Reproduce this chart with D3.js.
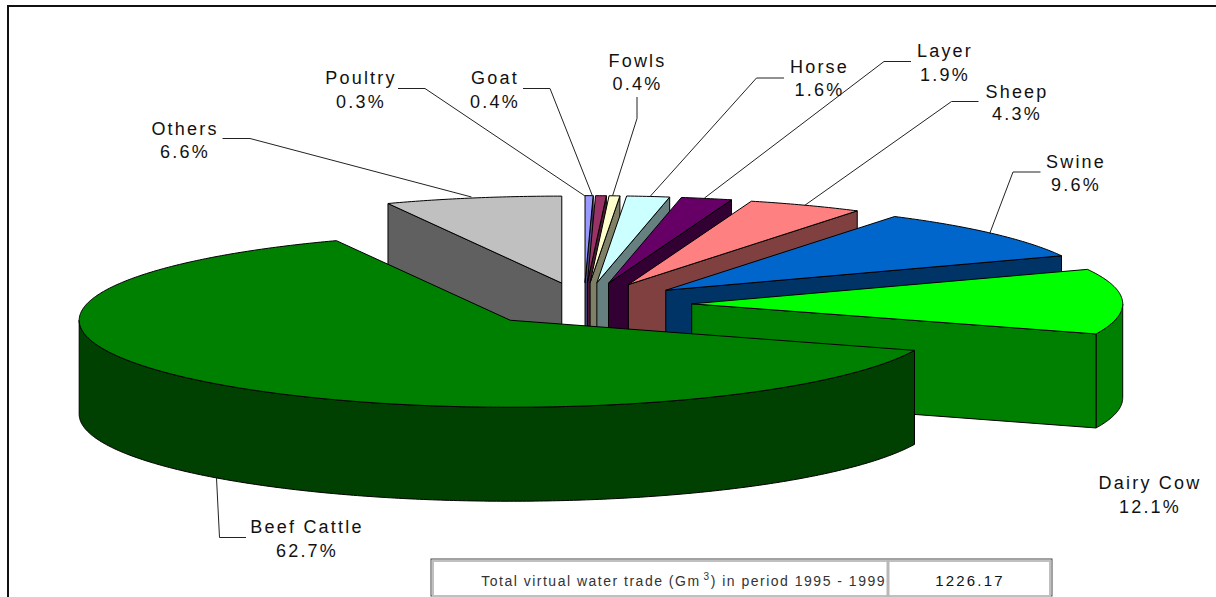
<!DOCTYPE html>
<html>
<head>
<meta charset="utf-8">
<script src="https://cdn.jsdelivr.net/npm/d3@7"></script>
<style>
  html, body { margin: 0; padding: 0; background: #fff; overflow: hidden; }
  text { font-family: "Liberation Sans", Arial, sans-serif; fill: #111; }
</style>
</head>
<body>
<div id="chart"></div>
<script>
  // Values
  const categories = ["Poultry", "Goat", "Fowls", "Horse", "Layer", "Sheep", "Swine", "Dairy Cow", "Beef Cattle", "Others"];
  const shares = [0.3, 0.4, 0.4, 1.6, 1.9, 4.3, 9.6, 12.1, 62.7, 6.6];
  const topColors = ["#9999ff", "#993366", "#ffffcc", "#ccffff", "#660066", "#ff8080", "#0066cc", "#00ff00", "#008000", "#c0c0c0"];
  const wallColors = ["#4d4d80", "#4d1a33", "#808066", "#668080", "#330033", "#804040", "#003366", "#008000", "#004000", "#606060"];

  const tableLabel = ["Total virtual water trade (Gm", "3", ") in period 1995 - 1999"];
  const tableValue = "1226.17";

  // Label placement, same order as categories: text centre, baselines, leader line
  const labelLayout = [
    { x: 360, y: [84, 107.5], line: [[398, 88.5], [425, 88.5], [585, 196]] },
    { x: 494, y: [84, 107.5], line: [[523, 88.5], [550, 88.5], [592.5, 196]] },
    { x: 636.5, y: [66.5, 90], line: [[637, 97], [637, 118.5], [612.5, 196]] },
    { x: 818.5, y: [73, 96], line: [[784, 78], [756.5, 78], [650.5, 196]] },
    { x: 944, y: [57, 80.5], line: [[911, 61.5], [884, 61.5], [704.5, 198]] },
    { x: 1016, y: [97.5, 120], line: [[978.5, 101.5], [951.5, 101.5], [804.5, 205.5]] },
    { x: 1075, y: [168, 191], line: [[1040.5, 172], [1013, 172], [989.5, 234]] },
    { x: 1149, y: [489, 512.5], line: null },
    { x: 306, y: [533, 556.5], line: [[246, 537.5], [219.5, 537.5], [216.5, 478]] },
    { x: 184, y: [135, 158], line: [[222.5, 138.5], [250, 138.5], [471.5, 197]] },
  ];

  const width = 1216;
  const height = 597;
  const centerX = 584;
  const centerY = 304.4;
  const radiusX = 431;
  const radiusY = 87;
  const depth = 94;
  const explode = 0.25;

  const svg = d3
    .select("#chart")
    .append("svg")
    .attr("width", width)
    .attr("height", height)
    .style("display", "block");

  // Unit circle to the flattened pie
  const sx = d3.scaleLinear().domain([-1, 1]).range([centerX - radiusX, centerX + radiusX]);
  const sy = d3.scaleLinear().domain([-1, 1]).range([centerY - radiusY, centerY + radiusY]);

  const arcs = d3.pie().sort(null).value((d) => d)(shares);

  const slices = arcs.map((a, i) => {
    const mid = (a.startAngle + a.endAngle) / 2;
    return {
      i,
      start: a.startAngle,
      end: a.endAngle,
      ox: explode * Math.sin(mid),
      oy: -explode * Math.cos(mid),
    };
  });

  const apex = (s) => [sx(s.ox), sy(s.oy)];
  const rim = (s, t) => [sx(s.ox + Math.sin(t)), sy(s.oy - Math.cos(t))];
  const angles = (a, b) => {
    const n = Math.max(2, Math.ceil((b - a) / 0.01));
    return d3.range(n + 1).map((k) => a + ((b - a) * k) / n);
  };
  const down = (p) => [p[0], p[1] + depth];
  const line = d3.line();

  const outline = (g, pts, fill) =>
    g
      .append("path")
      .attr("d", line(pts) + "Z")
      .attr("fill", fill)
      .attr("stroke", "#000")
      .attr("stroke-width", 1)
      .attr("stroke-linejoin", "round");

  // Back to front: Others, then clockwise, Beef Cattle last
  const order = [9, 0, 1, 2, 3, 4, 5, 6, 7, 8];
  const pie = svg.append("g");

  order.forEach((idx) => {
    const s = slices[idx];
    const g = pie.append("g");
    const wall = wallColors[idx];

    // outer wall, only the part turned to the viewer
    const a = Math.max(s.start, Math.PI / 2);
    const b = Math.min(s.end, (3 * Math.PI) / 2);
    if (b > a) {
      const pts = angles(a, b).map((t) => rim(s, t));
      outline(g, pts.concat(pts.slice().reverse().map(down)), wall);
    }

    // cut faces
    if (Math.sin(s.start) < -1e-6) {
      const p = [apex(s), rim(s, s.start)];
      outline(g, [p[0], p[1], down(p[1]), down(p[0])], wall);
    }
    if (Math.sin(s.end) > 1e-6) {
      const p = [apex(s), rim(s, s.end)];
      outline(g, [p[0], p[1], down(p[1]), down(p[0])], wall);
    }

    // top face
    const top = [apex(s)].concat(angles(s.start, s.end).map((t) => rim(s, t)));
    outline(g, top, topColors[idx]);
  });

  // Leader lines
  svg
    .append("g")
    .selectAll("path")
    .data(labelLayout.filter((d) => d.line))
    .enter()
    .append("path")
    .attr("d", (d) => line(d.line))
    .attr("fill", "none")
    .attr("stroke", "#222")
    .attr("stroke-width", 1);

  // Labels
  const labels = svg
    .append("g")
    .selectAll("text")
    .data(categories)
    .enter()
    .append("text")
    .attr("font-size", 18)
    .attr("letter-spacing", 2.2)
    .attr("text-anchor", "middle");

  labels
    .append("tspan")
    .attr("x", (d, i) => labelLayout[i].x + 1)
    .attr("y", (d, i) => labelLayout[i].y[0])
    .text((d) => d);

  labels
    .append("tspan")
    .attr("x", (d, i) => labelLayout[i].x + 1)
    .attr("y", (d, i) => labelLayout[i].y[1])
    .text((d, i) => `${shares[i].toFixed(1)}%`);

  // Frame, cut by the window on the right and at the bottom
  svg
    .append("path")
    .attr("d", line([[8, height], [8, 6], [width, 6]]))
    .attr("fill", "none")
    .attr("stroke", "#111")
    .attr("stroke-width", 2);

  // Total table
  const table = svg.append("g");
  table
    .append("rect")
    .attr("x", 431)
    .attr("y", 559)
    .attr("width", 621)
    .attr("height", 37)
    .attr("fill", "#fff")
    .attr("stroke", "#444")
    .attr("stroke-width", 1);
  table
    .append("rect")
    .attr("x", 433)
    .attr("y", 561)
    .attr("width", 617)
    .attr("height", 35)
    .attr("fill", "none")
    .attr("stroke", "#c0c0c0")
    .attr("stroke-width", 2);
  table
    .append("line")
    .attr("x1", 888)
    .attr("x2", 888)
    .attr("y1", 560)
    .attr("y2", 597)
    .attr("stroke", "#b8b8b8")
    .attr("stroke-width", 3);

  const caption = table
    .append("text")
    .attr("x", 886)
    .attr("y", 586)
    .attr("text-anchor", "end")
    .attr("font-size", 14)
    .attr("letter-spacing", 1.5)
    .attr("fill", "#333")
    .style("fill", "#333");
  caption.append("tspan").text(tableLabel[0]);
  caption.append("tspan").attr("dx", 3).attr("dy", -6).attr("font-size", 10).text(tableLabel[1]);
  caption.append("tspan").attr("dy", 6).text(tableLabel[2]);

  table
    .append("text")
    .attr("x", 970)
    .attr("y", 586)
    .attr("text-anchor", "middle")
    .attr("font-size", 15)
    .attr("letter-spacing", 2.2)
    .text(tableValue);
</script>
</body>
</html>
